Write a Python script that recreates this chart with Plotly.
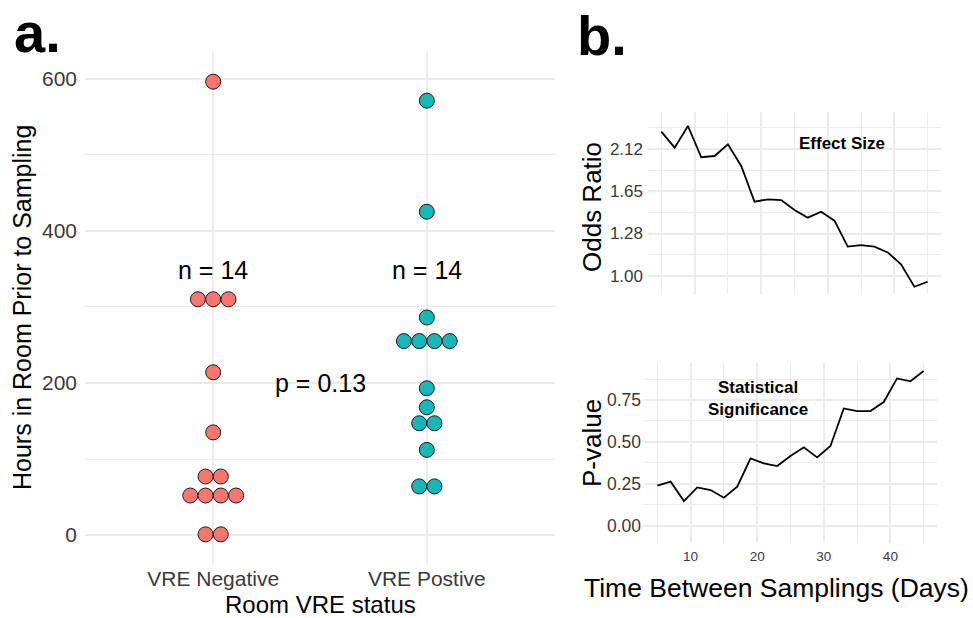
import numpy as np
import plotly.graph_objects as go

W, H = 973, 618

# ---------------- data ----------------
groups = ["VRE Negative", "VRE Postive"]
neg_hours = [596, 310, 310, 310, 214, 135, 77, 77, 52, 52, 52, 52, 1, 1]
pos_hours = [571, 425, 286, 255, 255, 255, 255, 193, 168, 147, 147, 112, 64, 64]
n_labels = ["n = 14", "n = 14"]
p_label = "p = 0.13"

days = [5, 7, 9, 11, 13, 15, 17, 19, 21, 23, 25, 27, 29, 31, 33, 35, 37, 39, 41, 43, 45]
odds_ratio = [2.346, 2.134, 2.426, 2.016, 2.031, 2.177, 1.915, 1.550, 1.572, 1.565, 1.476,
              1.410, 1.461, 1.385, 1.188, 1.199, 1.188, 1.148, 1.070, 0.937, 0.965]
p_value = [0.239, 0.263, 0.147, 0.229, 0.213, 0.167, 0.233, 0.402, 0.372, 0.356, 0.416,
           0.468, 0.408, 0.476, 0.700, 0.684, 0.684, 0.738, 0.879, 0.862, 0.923]
or_ticks = [1.00, 1.28, 1.65, 2.12]
or_tick_log = [0.0, 0.25, 0.5, 0.75]
p_ticks = [0.0, 0.25, 0.5, 0.75]

RED = "#F8766D"
TEAL = "#17B6B9"
GRID = "#EBEBEB"
FONT = "Liberation Sans, Arial, Helvetica, sans-serif"
TICKC = "#3a3a3a"


def dom_x(a, b):
    return [a / W, b / W]


def dom_y(top, bottom):
    return [1 - bottom / H, 1 - top / H]


def dot_offsets(vals, step):
    vals = list(vals)
    out = []
    seen = {}
    counts = {v: vals.count(v) for v in vals}
    for v in vals:
        i = seen.get(v, 0)
        seen[v] = i + 1
        k = counts[v]
        out.append((i - (k - 1) / 2) * step)
    return out


fig = go.Figure()

step = 0.0715
for gi, (vals, col) in enumerate([(neg_hours, RED), (pos_hours, TEAL)]):
    offs = dot_offsets(vals, step)
    xs = [gi + 1 + o for o in offs]
    fig.add_trace(go.Scatter(
        x=xs, y=vals, mode="markers", xaxis="x", yaxis="y",
        marker=dict(size=15, color=col, line=dict(color="#1a1a1a", width=1)),
        showlegend=False, hoverinfo="y"))

fig.add_trace(go.Scatter(x=days, y=odds_ratio, mode="lines", xaxis="x2", yaxis="y2",
                         line=dict(color="black", width=1.8), showlegend=False))
fig.add_trace(go.Scatter(x=days, y=p_value, mode="lines", xaxis="x3", yaxis="y3",
                         line=dict(color="black", width=1.8), showlegend=False))

common = dict(showline=False, zeroline=False, ticks="", fixedrange=True)

layout = dict(
    width=W, height=H, margin=dict(l=0, r=0, t=0, b=0),
    paper_bgcolor="white", plot_bgcolor="white",
    font=dict(family=FONT, color="black"),
    xaxis=dict(domain=dom_x(85, 555), range=[0.4, 2.6], tickvals=[1, 2], ticktext=groups,
               showgrid=True, gridcolor=GRID, gridwidth=1.6,
               tickfont=dict(size=21, color=TICKC), anchor="y", **common),
    yaxis=dict(domain=dom_y(52, 564), range=[-38, 635], tickvals=[0, 200, 400, 600],
               showgrid=True, gridcolor=GRID, gridwidth=1.6,
               minor=dict(tickvals=[100, 300, 500], showgrid=True, gridcolor=GRID, gridwidth=1),
               tickfont=dict(size=21, color=TICKC), anchor="x", ticklabelstandoff=7, **common),
    xaxis2=dict(domain=dom_x(648, 941), range=[3, 47], dtick=10, tick0=0,
                showticklabels=False, showgrid=True, gridcolor=GRID, gridwidth=1.6,
                minor=dict(dtick=5, tick0=0, showgrid=True, gridcolor=GRID, gridwidth=1.2),
                anchor="y2", **common),
    yaxis2=dict(domain=dom_y(112, 294), type="log",
                range=[-0.108 / np.log(10), 0.969 / np.log(10)],
                tickvals=[float(np.exp(v)) for v in or_tick_log],
                ticktext=["%.2f" % t for t in or_ticks],
                showgrid=True, gridcolor=GRID, gridwidth=1.6,
                minor=dict(tickvals=[float(np.exp(v)) for v in [0.125, 0.375, 0.625, 0.875]],
                           showgrid=True, gridcolor=GRID, gridwidth=1.2),
                tickfont=dict(size=17, color=TICKC), anchor="x2", ticklabelstandoff=4, **common),
    xaxis3=dict(domain=dom_x(644, 937), range=[3, 47], dtick=10, tick0=0,
                showgrid=True, gridcolor=GRID, gridwidth=1.6,
                minor=dict(dtick=5, tick0=0, showgrid=True, gridcolor=GRID, gridwidth=1.2),
                tickfont=dict(size=13.5, color=TICKC), anchor="y3", ticklabelstandoff=3, **common),
    yaxis3=dict(domain=dom_y(363, 543), range=[-0.103, 0.971], tickvals=p_ticks,
                ticktext=["%.2f" % t for t in p_ticks],
                showgrid=True, gridcolor=GRID, gridwidth=1.6,
                minor=dict(tickvals=[0.125, 0.375, 0.625, 0.875], showgrid=True,
                           gridcolor=GRID, gridwidth=1.2),
                tickfont=dict(size=17.5, color=TICKC), anchor="x3", ticklabelstandoff=2, **common),
)
fig.update_layout(**layout)

ann = []
# panel a text in data coords
for gi, t in enumerate(n_labels):
    ann.append(dict(x=gi + 1, y=348, xref="x", yref="y", text=t, showarrow=False,
                    font=dict(size=25, color="black")))
ann.append(dict(x=1.5, y=200, xref="x", yref="y", text=p_label, showarrow=False,
                font=dict(size=25, color="black")))
ann.append(dict(x=32.1, y=float(np.log10(2.19)), xref="x2", yref="y2", text="<b>Effect Size</b>",
                showarrow=False, font=dict(size=17, color="black")))
ann.append(dict(x=20.1, y=0.759, xref="x3", yref="y3",
                text="<b>Statistical</b><br><b>Significance</b>", showarrow=False,
                font=dict(size=17, color="black")))


def pann(px, py, text, size, angle=0, bold=False, xanchor="center", yanchor="middle"):
    if bold:
        text = "<b>%s</b>" % text
    return dict(x=px / W, y=1 - py / H, xref="paper", yref="paper", text=text, showarrow=False,
                textangle=angle, xanchor=xanchor, yanchor=yanchor,
                font=dict(size=size, color="black"))


ann.append(pann(320, 604, "Room VRE status", 24))
ann.append(pann(22, 308, "Hours in Room Prior to Sampling", 25, angle=-90))
ann.append(pann(592, 207, "Odds Ratio", 26, angle=-90))
ann.append(pann(592, 443, "P-value", 26, angle=-90))
ann.append(pann(776, 588, "Time Between Samplings (Days)", 26.5))
ann.append(pann(12, 32, "a.", 56, bold=True, xanchor="left"))
ann.append(pann(575, 36, "b.", 56, bold=True, xanchor="left"))
fig.update_layout(annotations=ann)

fig.write_html("out.html")
